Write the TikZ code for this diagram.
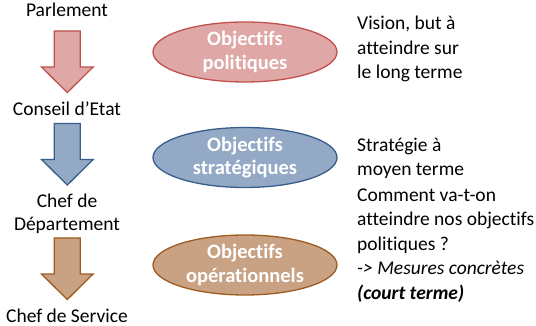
\documentclass[tikz,border=0pt]{standalone}
\usepackage{fontspec}
\setmainfont{Carlito}[Ligatures=CommonOff]
\usetikzlibrary{shapes.geometric}
\definecolor{redfill}{HTML}{DFA7A6}
\definecolor{redline}{HTML}{C0504D}
\definecolor{bluefill}{HTML}{94A9C6}
\definecolor{blueline}{HTML}{385D8A}
\definecolor{brownfill}{HTML}{C9A183}
\definecolor{brownline}{HTML}{9E5B1E}
\tikzset{
  txt/.style={font=\fontsize{19.5}{24.5}\selectfont, inner sep=0pt, align=left, anchor=base west},
  level/.style={font=\fontsize{19.5}{23.5}\selectfont, inner sep=0pt, align=center, anchor=base},
  objective/.style={ellipse, minimum width=184pt, minimum height=60pt, inner sep=0pt,
    line width=1.3pt, text=white, align=center, font=\bfseries\fontsize{20.5}{23.5}\selectfont},
  pics/downarrow/.style={code={
    \draw[pic actions, line width=1.3pt, line join=miter]
      (-13,0) -- (13,0) -- (13,36) -- (25.8,36) -- (0,61.5) -- (-25.8,36) -- (-13,36) -- cycle;}}
}
\begin{document}
\begin{tikzpicture}[x=1pt, y=-1pt]
  \useasboundingbox (0,0) rectangle (536,326);

  % hierarchy on the left (multi-line nodes sit on their last baseline)
  \node[level] (parl) at (67,17) {Parlement};
  \node[level] (ce) at (67,116) {Conseil d’Etat};
  \node[level] (dep) at (67,230.5) {Chef de\\Département};
  \node[level] (serv) at (67,322) {Chef de Service};

  \pic[fill=redfill, draw=redline] at (67.3,31) {downarrow};
  \pic[fill=bluefill, draw=blueline] at (67.3,123.5) {downarrow};
  \pic[fill=brownfill, draw=brownline] at (67.3,238) {downarrow};

  % objectives
  \node[objective, fill=redfill, draw=redline] (pol) at (245,52) {Objectifs\\politiques};
  \node[objective, fill=bluefill, draw=blueline] (strat) at (245,157.5) {Objectifs\\stratégiques};
  \node[objective, fill=brownfill, draw=brownline] (oper) at (245,265) {Objectifs\\opérationnels};

  % descriptions
  \node[txt] (dpol) at (357,79) {Vision, but à\\atteindre sur\\le long terme};
  \node[txt] (dstrat) at (357,175.5) {Stratégie à\\moyen terme};
  \node[txt] (doper) at (357,299) {Comment va-t-on\\atteindre nos objectifs\\politiques ?\\\textit{-> Mesures concrètes}\\\textbf{\textit{(court terme)}}};
\end{tikzpicture}
\end{document}
